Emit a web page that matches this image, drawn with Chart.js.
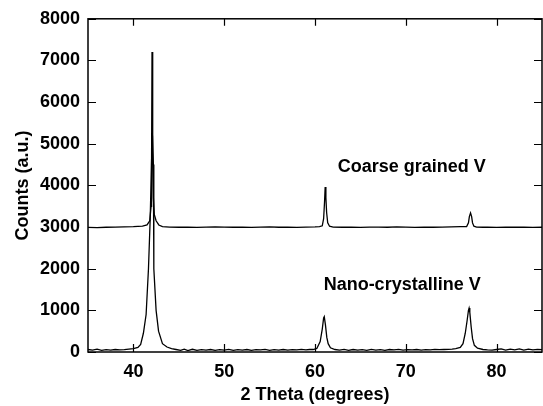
<!DOCTYPE html>
<html>
<head>
<meta charset="utf-8">
<script src="https://cdn.jsdelivr.net/npm/chart.js@4.4.1/dist/chart.umd.min.js"></script>
<style>
  html, body { margin: 0; padding: 0; background: #fff; }
  #wrap { width: 543px; height: 406px; }
</style>
</head>
<body>
<div id="wrap"><canvas id="xrdChart"></canvas></div>
<script>
// tick values
const xTicks = [40, 50, 60, 70, 80];
const yTicks = [0, 1000, 2000, 3000, 4000, 5000, 6000, 7000, 8000];

// coarse grained V (offset by 3000)
const coarseX = [
    35, 36, 37, 38, 39, 40, 40.5, 41, 41.5, 41.8,
    41.95, 42.0, 42.05, 42.1, 42.15, 42.2, 42.3, 42.5, 42.8, 43.2,
    44, 45, 46, 47, 48, 49, 50, 51, 52, 53,
    54, 55, 56, 57, 58, 59, 60, 60.5, 60.8, 60.95,
    61.05, 61.12, 61.2, 61.28, 61.4, 61.6, 62, 63, 64, 65,
    66, 67, 68, 69, 70, 71, 72, 73, 74, 75,
    76, 76.7, 76.9, 77.0, 77.13, 77.25, 77.35, 77.5, 77.8, 78.5,
    79, 80, 81, 82, 83, 84, 85
];
const coarseY = [
    2990, 2985, 2995, 3000, 3005, 3010, 3015, 3020, 3050, 3150,
    3500, 4500, 7200, 6800, 4800, 3700, 3300, 3150, 3050, 3010,
    3000, 2995, 3000, 2990, 3000, 3005, 3000, 2995, 3000, 2990,
    3000, 3005, 2995, 3000, 2990, 3000, 3005, 3010, 3030, 3200,
    3600, 3960, 3700, 3350, 3100, 3020, 3000, 2995, 3000, 2990,
    3000, 3000, 2995, 3005, 3000, 2990, 3000, 2995, 3000, 3005,
    3010, 3010, 3100, 3250, 3340, 3250, 3100, 3020, 3000, 2995,
    3000, 2990, 3000, 2995, 3000, 2990, 3000
];

// nano-crystalline V
const nanoX = [
    35, 35.5, 36, 36.5, 37, 37.5, 38, 38.5, 39, 39.5,
    40, 40.5, 40.8, 41.1, 41.4, 41.66, 41.85, 42.0, 42.1, 42.2,
    42.25, 42.5, 42.77, 43.2, 43.7, 44.2, 44.7, 45.2, 45.6, 46,
    46.5, 47, 47.5, 48, 48.5, 49, 49.5, 50, 50.5, 51,
    51.5, 52, 52.5, 53, 53.5, 54, 54.5, 55, 55.5, 56,
    56.5, 57, 57.5, 58, 58.5, 59, 59.4, 59.8, 60.2, 60.57,
    60.8, 60.95, 61.02, 61.15, 61.3, 61.45, 61.7, 62.2, 62.7, 63.2,
    63.7, 64.2, 64.7, 65.2, 65.7, 66.2, 66.7, 67.2, 67.7, 68.2,
    68.7, 69.2, 69.7, 70.2, 70.7, 71.2, 71.7, 72.2, 72.7, 73.2,
    73.7, 74.2, 74.7, 75.1, 75.5, 76.0, 76.3, 76.55, 76.75, 76.9,
    76.97, 77.05, 77.2, 77.35, 77.55, 77.9, 78.5, 79, 79.5, 80,
    80.5, 81, 81.5, 82, 82.5, 83, 83.5, 84, 84.5, 85
];
const nanoY = [
    60, 45, 70, 40, 55, 45, 60, 50, 55, 70,
    80, 110, 180, 450, 900, 2000, 3200, 4600, 5200, 4500,
    2000, 1000, 500, 200, 120, 80, 60, 40, 70, 35,
    65, 40, 55, 45, 60, 40, 55, 45, 65, 40,
    55, 45, 60, 40, 55, 50, 65, 40, 55, 45,
    60, 45, 55, 50, 65, 50, 60, 60, 85, 250,
    550, 820, 850, 650, 350, 200, 100, 60, 45, 65,
    40, 60, 45, 55, 40, 65, 45, 55, 40, 60,
    50, 65, 45, 55, 50, 60, 45, 55, 50, 65,
    55, 60, 65, 70, 80, 110, 200, 450, 750, 1000,
    1054, 950, 600, 320, 160, 90, 60, 50, 45, 60,
    75, 45, 70, 50, 75, 45, 70, 50, 65, 55
];

const toPoints = (xs, ys) => xs.map((x, i) => ({ x: x, y: ys[i] }));

const font = { family: "'Liberation Sans', Arial, sans-serif", size: 18, weight: "bold" };

// frame, inward ticks on all four sides, and the curve labels
const framePlugin = {
    id: "frame",
    afterDraw(chart) {
        const { ctx, chartArea: a, scales } = chart;
        ctx.save();
        ctx.strokeStyle = "#000";
        ctx.lineWidth = 1.5;
        ctx.strokeRect(a.left, a.top, a.right - a.left, a.bottom - a.top);
        ctx.lineWidth = 1.2;
        ctx.beginPath();
        xTicks.forEach(v => {
            const px = Math.round(scales.x.getPixelForValue(v)) + 0.5;
            ctx.moveTo(px, a.bottom); ctx.lineTo(px, a.bottom - 8);
            ctx.moveTo(px, a.top); ctx.lineTo(px, a.top + 7);
        });
        yTicks.forEach(v => {
            const py = Math.round(scales.y.getPixelForValue(v)) + 0.5;
            ctx.moveTo(a.left, py); ctx.lineTo(a.left + 8, py);
            ctx.moveTo(a.right, py); ctx.lineTo(a.right - 8, py);
        });
        ctx.stroke();

        ctx.fillStyle = "#000";
        ctx.font = "bold 18px 'Liberation Sans', Arial, sans-serif";
        ctx.textBaseline = "middle";
        ctx.fillText("Coarse grained V", scales.x.getPixelForValue(62.5), scales.y.getPixelForValue(4440));
        ctx.fillText("Nano-crystalline V", scales.x.getPixelForValue(60.95), scales.y.getPixelForValue(1600));
        ctx.restore();
    }
};

new Chart(document.getElementById("xrdChart"), {
    type: "line",
    data: {
        datasets: [
            {
                label: "Coarse grained V",
                data: toPoints(coarseX, coarseY),
                borderColor: "#000",
                borderWidth: 1.3,
                pointRadius: 0,
                tension: 0,
            },
            {
                label: "Nano-crystalline V",
                data: toPoints(nanoX, nanoY),
                borderColor: "#000",
                borderWidth: 1.3,
                pointRadius: 0,
                tension: 0,
            },
        ],
    },
    options: {
        responsive: true,
        maintainAspectRatio: false,
        animation: false,
        layout: { padding: { top: 18, right: 1, left: 0, bottom: 0 } },
        plugins: {
            legend: { display: false },
            tooltip: { enabled: false },
        },
        scales: {
            x: {
                type: "linear",
                min: 35,
                max: 85,
                afterBuildTicks: s => { s.ticks = xTicks.map(v => ({ value: v })); },
                afterFit: s => { s.height = 54; },
                grid: { display: false, drawTicks: false },
                border: { display: false },
                ticks: { color: "#000", font: font, padding: 9, maxRotation: 0, callback: v => String(v) },
                title: {
                    display: true,
                    text: "2 Theta (degrees)",
                    color: "#000",
                    font: font,
                    padding: { top: 0, bottom: 0 },
                },
            },
            y: {
                min: 0,
                max: 8000,
                afterBuildTicks: s => { s.ticks = yTicks.map(v => ({ value: v })); },
                afterFit: s => { s.width = 88; },
                grid: { display: false, drawTicks: false },
                border: { display: false },
                ticks: { color: "#000", font: font, padding: 8, callback: v => String(v) },
                title: {
                    display: true,
                    text: "Counts (a.u.)",
                    color: "#000",
                    font: font,
                    padding: { top: 12, bottom: 0 },
                },
            },
        },
    },
    plugins: [framePlugin],
});
</script>
</body>
</html>
